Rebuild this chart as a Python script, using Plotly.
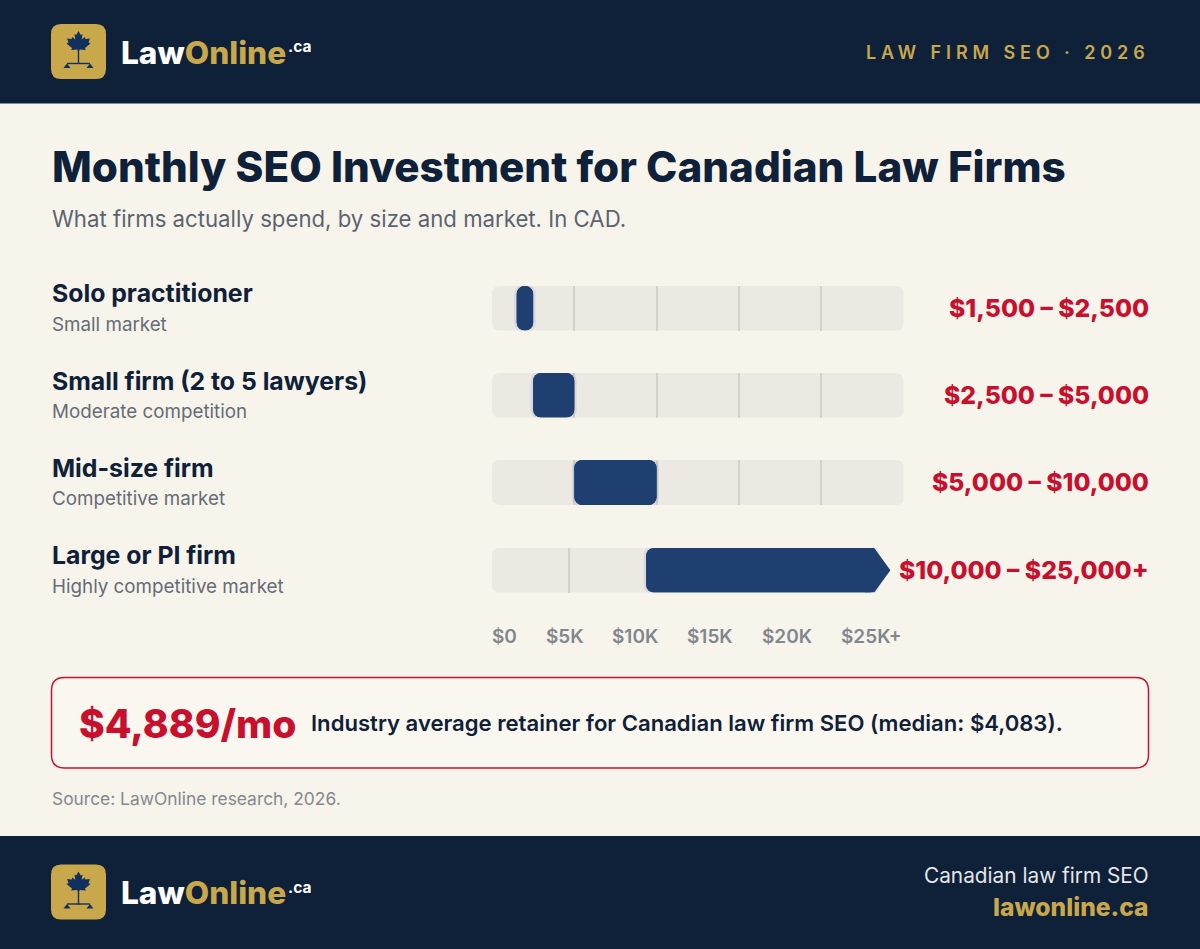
import plotly.graph_objects as go

W, H = 1200, 949
NAVY = "#0f2039"
GOLD = "#c9a84c"
CREAM = "#f7f4ec"
TRACK = "#ece9e2"
BAR = "#1e3f6f"
RED = "#c8102e"
FONT = "Inter"

firm_names = ["Solo practitioner", "Small firm (2 to 5 lawyers)", "Mid-size firm", "Large or PI firm"]
firm_markets = ["Small market", "Moderate competition", "Competitive market", "Highly competitive market"]
spend_low = [1500, 2500, 5000, 10000]
spend_high = [2500, 5000, 10000, 25000]
spend_labels = ["$1,500 – $2,500", "$2,500 – $5,000", "$5,000 – $10,000", "$10,000 – $25,000+"]
tick_labels = ["$0", "$5K", "$10K", "$15K", "$20K", "$25K+"]
grid_values = [[5000, 10000, 15000, 20000]] * 3 + [[5000]]
axis_max = [25000, 25000, 25000, 26700]

# Page layout, in pixels from the top-left corner
TRACK_X = (492, 903.5)
TRACK_END = [903.5, 903.5, 903.5, 872]
TRACK_Y = [(286, 330.5), (373, 417.5), (460, 505), (548, 592.5)]
LABEL_Y = [293, 380.5, 467.5, 555]
SUB_Y = [324, 411, 498, 586]
VALUE_Y = [308, 395, 482, 569.5]
TICK_X = [492, 546, 612, 687, 762, 841]


def px(x):
    return x / W


def py(y):
    return 1 - y / H


def text(x, y, s, size, color, weight=400, anchor="left"):
    return dict(
        x=px(x), y=py(y), xref="paper", yref="paper", text=s, showarrow=False,
        xanchor=anchor, yanchor="middle", align=anchor, borderpad=0, borderwidth=0,
        font=dict(family=FONT, size=size, color=color, weight=weight),
    )


def rect(x0, y0, x1, y1, fill, line=None, width=0):
    return dict(
        type="rect", xref="paper", yref="paper", x0=px(x0), x1=px(x1), y0=py(y1), y1=py(y0),
        fillcolor=fill, line=dict(width=width, color=line), layer="below",
    )


def path_shape(points, fill=None, line=None, width=0, rounded=None):
    # Polygon, or rounded rectangle, in page pixels mapped onto paper coordinates
    if rounded:
        x0, y0, x1, y1, r = rounded
        d = (
            f"M{px(x0 + r)},{py(y0)} L{px(x1 - r)},{py(y0)} Q{px(x1)},{py(y0)} {px(x1)},{py(y0 + r)} "
            f"L{px(x1)},{py(y1 - r)} Q{px(x1)},{py(y1)} {px(x1 - r)},{py(y1)} "
            f"L{px(x0 + r)},{py(y1)} Q{px(x0)},{py(y1)} {px(x0)},{py(y1 - r)} "
            f"L{px(x0)},{py(y0 + r)} Q{px(x0)},{py(y0)} {px(x0 + r)},{py(y0)} Z"
        )
    else:
        d = "M" + " L".join(f"{px(a)},{py(b)}" for a, b in points) + " Z"
    return dict(
        type="path", xref="paper", yref="paper", path=d, layer="below",
        fillcolor=fill or "rgba(0,0,0,0)", line=dict(width=width, color=line or "rgba(0,0,0,0)"),
    )


LEAF = [
    (0, -11.5), (2.2, -7.5), (4, -8.5), (3.2, -3), (6, -5.5), (7, -3.5), (11.5, -4), (10, 0),
    (12, 1), (6.5, 5.5), (7.3, 7.5), (1, 7), (1, 8), (-1, 8), (-1, 7), (-7.3, 7.5), (-6.5, 5.5),
    (-12, 1), (-10, 0), (-11.5, -4), (-7, -3.5), (-6, -5.5), (-3.2, -3), (-4, -8.5), (-2.2, -7.5),
]


def logo(top):
    cx, cy = 78.5, top + 18.5
    items = [
        path_shape(None, fill=GOLD, rounded=(51, top, 106, top + 55, 10)),
        path_shape([(cx + a, cy + b) for a, b in LEAF], fill="#12305e"),
        rect(cx - 0.7, cy + 7, cx + 0.7, top + 40, "#12305e"),
        rect(67, top + 38.8, 90, top + 40.2, "#12305e"),
        path_shape([(67, top + 39.5), (63.5, top + 44), (70.5, top + 44)], fill="#12305e"),
        path_shape([(90, top + 39.5), (86.5, top + 44), (93.5, top + 44)], fill="#12305e"),
    ]
    return items


def wordmark(mid):
    return [
        text(120.5, mid, f'Law<span style="color:{GOLD}">Online</span>', 31.6, "#ffffff", 800),
        text(288, mid - 5, ".ca", 15.5, "#ffffff", 700),
    ]


shapes = [
    rect(0, 0, W, 103.5, NAVY),
    rect(0, 836, W, H, NAVY),
    *logo(24),
    *logo(864.5),
    path_shape(None, fill="#faf7f0", line=RED, width=1.5, rounded=(51.5, 677.5, 1148.5, 768, 13)),
]
for i, (top, bottom) in enumerate(TRACK_Y):
    shapes.append(path_shape(None, fill=TRACK, rounded=(TRACK_X[0], top, TRACK_END[i], bottom, 8)))

annotations = [
    *wordmark(52),
    *wordmark(892.5),
    text(1149.5, 52, '<span style="letter-spacing:4.9px">LAW FIRM SEO · 2026</span>', 18, GOLD, 600, "right"),
    text(51.5, 167, "Monthly SEO Investment for Canadian Law Firms", 42.2, NAVY, 800),
    text(51.5, 218.5, "What firms actually spend, by size and market. In CAD.", 22.2, "#5c6370"),
    text(79, 723, "$4,889/mo", 39, RED, 800),
    text(311, 723, "Industry average retainer for Canadian law firm SEO (median: $4,083).", 22.1, NAVY, 600),
    text(51.5, 798.5, "Source: LawOnline research, 2026.", 17.4, "#85888e"),
    text(1149, 875, "Canadian law firm SEO", 20.8, "#e4e6ea", 400, "right"),
    text(1149, 907, "lawonline.ca", 24.6, GOLD, 800, "right"),
]
for i in range(4):
    annotations += [
        text(51.5, LABEL_Y[i], firm_names[i], 24.8, NAVY, 700),
        text(51.5, SUB_Y[i], firm_markets[i], 18.8, "#666c77"),
        text(1149, VALUE_Y[i], spend_labels[i], 24.7, RED, 800, "right"),
    ]
for x, label in zip(TICK_X, tick_labels):
    annotations.append(text(x, 636, label, 19, "#82868d", 600))

fig = go.Figure()
axes = {}
for i in range(4):
    suffix = "" if i == 0 else str(i + 1)
    top, bottom = TRACK_Y[i]
    axes[f"xaxis{suffix}"] = dict(
        domain=[px(TRACK_X[0]), px(TRACK_X[1])], range=[0, axis_max[i]], anchor=f"y{suffix}",
        tickmode="array", tickvals=grid_values[i], showticklabels=False, ticks="", zeroline=False,
        showgrid=True, gridcolor="#d3d1ca", gridwidth=1.5, showline=False, fixedrange=True,
    )
    axes[f"yaxis{suffix}"] = dict(
        domain=[py(bottom), py(top)], range=[-0.5, 0.5], anchor=f"x{suffix}",
        visible=False, fixedrange=True,
    )
    # Soft glow first, solid band on top of it
    fig.add_trace(go.Bar(
        x=[spend_high[i] - spend_low[i]], base=[spend_low[i]], y=[0], orientation="h", width=1,
        marker=dict(color=BAR, cornerradius=8, line=dict(color="rgba(70,120,200,0.13)", width=5)),
        cliponaxis=False, hoverinfo="skip", showlegend=False,
        xaxis=f"x{suffix}", yaxis=f"y{suffix}",
    ))
    fig.add_trace(go.Bar(
        x=[spend_high[i] - spend_low[i]], base=[spend_low[i]], y=[0], orientation="h", width=1,
        marker=dict(color=BAR, cornerradius=8, line=dict(width=0)),
        cliponaxis=False, hoverinfo="skip", showlegend=False,
        xaxis=f"x{suffix}", yaxis=f"y{suffix}",
    ))

# Open-ended top band: the arrowhead starts at the band's end and points past it
head_start = spend_high[3] - 200
head_tip = spend_high[3] + 850
fig.add_trace(go.Scatter(
    x=[head_start - 600, head_start, head_tip, head_start, head_start - 600, head_start - 600],
    y=[0.5, 0.5, 0, -0.5, -0.5, 0.5],
    mode="lines", fill="toself", fillcolor=BAR, line=dict(width=0, color=BAR),
    cliponaxis=False, hoverinfo="skip", showlegend=False, xaxis="x4", yaxis="y4",
))

fig.update_layout(
    width=W, height=H, margin=dict(l=0, r=0, t=0, b=0), autosize=False, barmode="overlay",
    paper_bgcolor=CREAM, plot_bgcolor="rgba(0,0,0,0)", showlegend=False,
    shapes=shapes, annotations=annotations, **axes,
)
fig.write_html("out.html", config=dict(displayModeBar=False))
